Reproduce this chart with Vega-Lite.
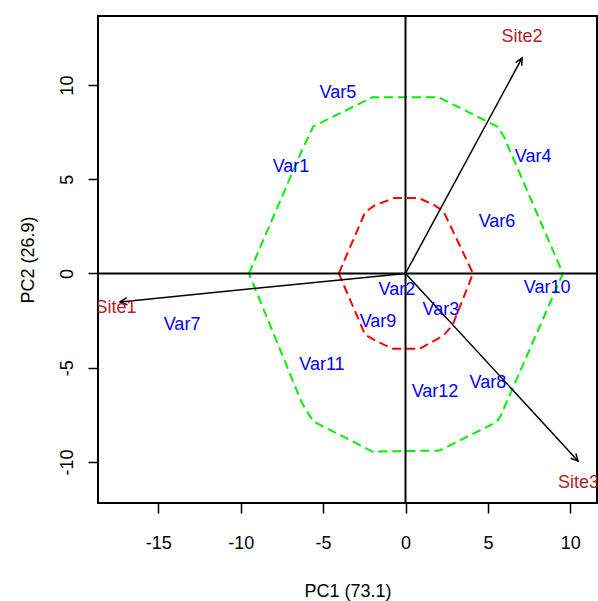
{
  "$schema": "https://vega.github.io/schema/vega-lite/v6.json",
  "width": 499,
  "height": 487,
  "autosize": {"type": "none"},
  "padding": {"left": 98, "top": 16, "right": 1, "bottom": 98},
  "background": "white",
  "config": {
    "view": {"stroke": "black", "strokeWidth": 2},
    "font": "Liberation Sans",
    "axis": {
      "grid": false,
      "domain": false,
      "tickColor": "black",
      "tickWidth": 1.5,
      "tickSize": 10,
      "labelFont": "Liberation Sans",
      "labelFontSize": 18,
      "labelColor": "black",
      "labelOverlap": false,
      "labelFlush": false,
      "labelBound": false,
      "labelExpr": "replace(datum.label, '\u2212', '-')",
      "titleFont": "Liberation Sans",
      "titleFontSize": 18,
      "titleFontWeight": "normal",
      "titleColor": "black"
    }
  },
  "datasets": {
    "rings": [
      {"ring": "outer", "i": 0, "x": -9.5, "y": 0},
      {"ring": "outer", "i": 1, "x": -6.3, "y": 6.5},
      {"ring": "outer", "i": 2, "x": -5.6, "y": 7.8},
      {"ring": "outer", "i": 3, "x": -2.0, "y": 9.35},
      {"ring": "outer", "i": 4, "x": 2.0, "y": 9.35},
      {"ring": "outer", "i": 5, "x": 5.55, "y": 7.8},
      {"ring": "outer", "i": 6, "x": 5.95, "y": 7.3},
      {"ring": "outer", "i": 7, "x": 9.55, "y": 0},
      {"ring": "outer", "i": 8, "x": 5.75, "y": -7.6},
      {"ring": "outer", "i": 9, "x": 5.5, "y": -7.9},
      {"ring": "outer", "i": 10, "x": 2.05, "y": -9.4},
      {"ring": "outer", "i": 11, "x": -2.0, "y": -9.45},
      {"ring": "outer", "i": 12, "x": -5.6, "y": -7.85},
      {"ring": "outer", "i": 13, "x": -6.3, "y": -6.85},
      {"ring": "outer", "i": 14, "x": -9.5, "y": 0},
      {"ring": "inner", "i": 0, "x": -4.05, "y": 0},
      {"ring": "inner", "i": 1, "x": -2.45, "y": 3.25},
      {"ring": "inner", "i": 2, "x": -1.9, "y": 3.6},
      {"ring": "inner", "i": 3, "x": -0.7, "y": 4.0},
      {"ring": "inner", "i": 4, "x": 0.8, "y": 4.0},
      {"ring": "inner", "i": 5, "x": 1.7, "y": 3.65},
      {"ring": "inner", "i": 6, "x": 2.3, "y": 3.3},
      {"ring": "inner", "i": 7, "x": 4.1, "y": 0},
      {"ring": "inner", "i": 8, "x": 2.85, "y": -2.75},
      {"ring": "inner", "i": 9, "x": 2.3, "y": -3.3},
      {"ring": "inner", "i": 10, "x": 0.85, "y": -4.0},
      {"ring": "inner", "i": 11, "x": -0.75, "y": -4.0},
      {"ring": "inner", "i": 12, "x": -1.75, "y": -3.6},
      {"ring": "inner", "i": 13, "x": -2.45, "y": -3.25},
      {"ring": "inner", "i": 14, "x": -4.05, "y": 0}
    ],
    "vars": [
      {"name": "Var1", "x": -6.95, "y": 5.65},
      {"name": "Var2", "x": -0.52, "y": -0.88},
      {"name": "Var3", "x": 2.15, "y": -1.94},
      {"name": "Var4", "x": 7.74, "y": 6.18},
      {"name": "Var5", "x": -4.1, "y": 9.58},
      {"name": "Var6", "x": 5.55, "y": 2.73},
      {"name": "Var7", "x": -13.56, "y": -2.73},
      {"name": "Var8", "x": 5.0, "y": -5.81},
      {"name": "Var9", "x": -1.67, "y": -2.57},
      {"name": "Var10", "x": 8.59, "y": -0.77},
      {"name": "Var11", "x": -5.07, "y": -4.85},
      {"name": "Var12", "x": 1.79, "y": -6.29}
    ],
    "sites": [
      {"name": "Site1", "x": -17.57, "y": -1.85, "xe": -17.32, "ye": -1.51},
      {"name": "Site2", "x": 7.07, "y": 12.55, "xe": 7.07, "ye": 11.43},
      {"name": "Site3", "x": 10.5, "y": -11.11, "xe": 10.47, "ye": -9.95}
    ],
    "origin": [{"x": 0, "y": 0}]
  },
  "layer": [
    {
      "data": {"name": "rings"},
      "mark": {"type": "line", "strokeWidth": 2, "strokeDash": [9, 5], "interpolate": "linear"},
      "encoding": {
        "x": {"field": "x", "type": "quantitative", "scale": {"domain": [-18.66, 11.62], "nice": false, "zero": false},
              "axis": {"values": [-15, -10, -5, 0, 5, 10], "title": "PC1 (73.1)", "labelPadding": 21, "titlePadding": 30}},
        "y": {"field": "y", "type": "quantitative", "scale": {"domain": [-12.18, 13.66], "nice": false, "zero": false},
              "axis": {"values": [-10, -5, 0, 5, 10], "title": "PC2 (26.9)", "labelAngle": 270, "labelAlign": "center", "labelBaseline": "bottom", "labelPadding": 12, "titlePadding": 21}},
        "detail": {"field": "ring"},
        "order": {"field": "i", "type": "quantitative"},
        "color": {"field": "ring", "type": "nominal", "scale": {"domain": ["outer", "inner"], "range": ["#00EE00", "#FF0000"]}, "legend": null}
      }
    },
    {
      "data": {"name": "origin"},
      "mark": {"type": "rule", "color": "black", "strokeWidth": 2},
      "encoding": {
        "x": {"field": "x", "type": "quantitative", "title": "PC1 (73.1)"}
      }
    },
    {
      "data": {"name": "origin"},
      "mark": {"type": "rule", "color": "black", "strokeWidth": 2},
      "encoding": {
        "y": {"field": "y", "type": "quantitative", "title": "PC2 (26.9)"}
      }
    },
    {
      "data": {"name": "sites"},
      "mark": {"type": "rule", "color": "black", "strokeWidth": 1.5},
      "encoding": {
        "x": {"field": "xe", "type": "quantitative", "title": "PC1 (73.1)"},
        "y": {"field": "ye", "type": "quantitative", "title": "PC2 (26.9)"},
        "x2": {"datum": 0},
        "y2": {"datum": 0}
      }
    },
    {
      "data": {"name": "sites"},
      "transform": [{"calculate": "atan2(datum.xe * 16.48, datum.ye * 18.85) * 180 / PI", "as": "ang"}],
      "mark": {"type": "point", "filled": false, "stroke": "black", "strokeWidth": 1.5, "size": 100, "opacity": 1,
               "shape": "M -0.7 1.4 L 0 0 L 0.7 1.4"},
      "encoding": {
        "x": {"field": "xe", "type": "quantitative", "title": "PC1 (73.1)"},
        "y": {"field": "ye", "type": "quantitative", "title": "PC2 (26.9)"},
        "angle": {"field": "ang", "type": "quantitative", "scale": null}
      }
    },
    {
      "data": {"name": "vars"},
      "mark": {"type": "text", "color": "#0000FF", "fontSize": 18, "font": "Liberation Sans", "baseline": "middle", "align": "center"},
      "encoding": {
        "x": {"field": "x", "type": "quantitative", "title": "PC1 (73.1)"},
        "y": {"field": "y", "type": "quantitative", "title": "PC2 (26.9)"},
        "text": {"field": "name"}
      }
    },
    {
      "data": {"name": "sites"},
      "mark": {"type": "text", "color": "#B22222", "fontSize": 18, "font": "Liberation Sans", "baseline": "middle", "align": "center", "clip": true},
      "encoding": {
        "x": {"field": "x", "type": "quantitative", "title": "PC1 (73.1)"},
        "y": {"field": "y", "type": "quantitative", "title": "PC2 (26.9)"},
        "text": {"field": "name"}
      }
    }
  ]
}
